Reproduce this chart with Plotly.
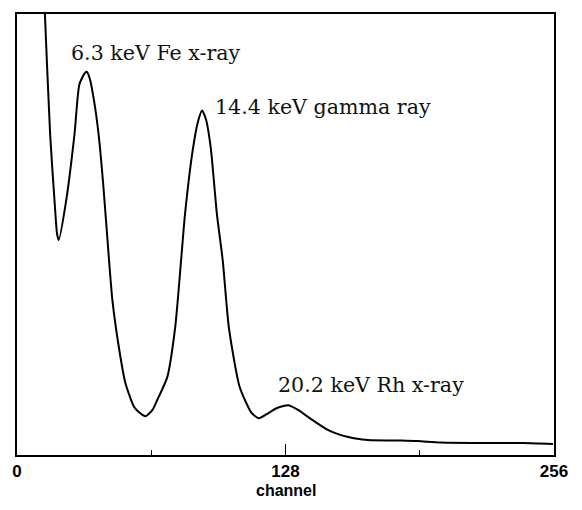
import plotly.graph_objects as go

# Spectrum (channel, relative counts)
channel = [12.3, 13.3, 15.8, 17.9, 19.1, 19.9, 23.4, 27.4, 29.7, 32.1, 33.2, 34.7,
           36.8, 38.9, 41.1, 43.9, 45.5, 48.8, 51.7, 55.9, 58.8, 61.2, 64.5, 66.8,
           71.6, 75.4, 78.2, 80.1, 83.9, 86.3, 88.2, 90.1, 92.4, 95.3, 98.1, 101.0,
           106.2, 111.9, 115.2, 119.0, 123.7, 129.4, 134.2, 138.9, 148.4, 157.9,
           167.3, 183.0, 191.1, 202.0, 225.7, 241.3, 255.5]
counts = [495, 443, 322, 255, 222, 216, 255, 322, 372, 383, 385, 378,
          355, 322, 272, 195, 155, 105, 72, 48, 42, 39, 45, 55,
          78, 128, 195, 242, 308, 335, 346, 337, 308, 242, 195, 128,
          68, 42, 37, 41, 47, 50, 45, 38, 25, 18,
          15, 14.5, 14, 12.5, 12, 12, 11]

tick_vals = [0, 128, 256]
tick_text = ["0", "128", "256"]

peak_labels = ["6.3 keV Fe x-ray", "14.4 keV gamma ray", "20.2 keV Rh x-ray"]
label_x = [24.8, 93.2, 123.3]
label_y = [404, 350, 70]

fig = go.Figure()
fig.add_trace(go.Scatter(x=channel, y=counts, mode="lines",
                         line=dict(color="black", width=2, shape="spline", smoothing=0.6),
                         hoverinfo="skip", showlegend=False))

for t, x, y in zip(peak_labels, label_x, label_y):
    fig.add_annotation(x=x, y=y, xref="x", yref="y", text=t, showarrow=False,
                       xanchor="left", yanchor="middle",
                       font=dict(family="DejaVu Serif", size=20.6, color="#111"))

fig.add_annotation(x=0.5, y=-0.08, xref="paper", yref="paper", text="channel",
                   showarrow=False, xanchor="center", yanchor="middle",
                   font=dict(family="Liberation Sans", size=16, color="black", weight="bold"))

fig.update_layout(
    width=582, height=510,
    margin=dict(l=14, r=28, t=12, b=55),
    paper_bgcolor="white", plot_bgcolor="white",
    xaxis=dict(range=[0, 256], tickvals=tick_vals, ticktext=tick_text,
               ticks="inside", ticklen=11, tickwidth=1.2, tickcolor="black",
               minor=dict(dtick=64, tick0=0, ticks="inside", ticklen=5, tickwidth=1.2, tickcolor="black"),
               showline=True, linecolor="black", linewidth=1.5, mirror=True,
               showgrid=False, zeroline=False,
               tickfont=dict(family="Liberation Sans", size=17, color="black", weight="bold")),
    yaxis=dict(range=[0, 443], showticklabels=False, ticks="",
               showline=True, linecolor="black", linewidth=1.5, mirror=True,
               showgrid=False, zeroline=False),
)

fig.write_html("out.html", config={"displayModeBar": False},
               post_script="document.body.style.margin='0';")
